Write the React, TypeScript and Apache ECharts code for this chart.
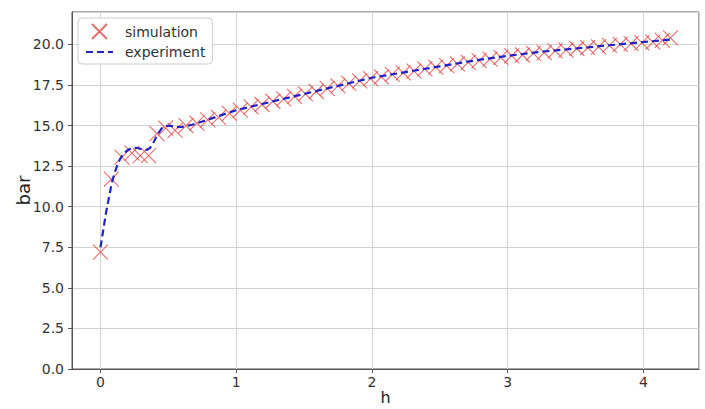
import React, { useEffect, useRef } from "react";
import * as echarts from "echarts";

const simX = [0, 0.08, 0.158, 0.232, 0.293, 0.354, 0.416, 0.48, 0.55, 0.63,
  0.71, 0.79, 0.87, 0.95, 1.03, 1.11, 1.19, 1.27, 1.35, 1.43, 1.51, 1.59, 1.67, 1.75, 1.83,
  1.91, 1.99, 2.07, 2.15, 2.23, 2.31, 2.39, 2.47, 2.55, 2.63, 2.71, 2.79, 2.87, 2.95, 3.03,
  3.11, 3.19, 3.27, 3.35, 3.43, 3.51, 3.59, 3.67, 3.75, 3.83, 3.91, 3.99, 4.07, 4.14, 4.2];
const simY = [7.2, 11.7, 13.05, 13.3, 13.15, 13.15, 14.5, 14.85, 14.7, 15.0,
  15.15, 15.35, 15.5, 15.75, 15.95, 16.15, 16.3, 16.5, 16.65, 16.8, 16.95, 17.1, 17.3, 17.45, 17.6,
  17.75, 17.9, 18.0, 18.15, 18.25, 18.35, 18.5, 18.6, 18.7, 18.8, 18.9, 19.0, 19.1, 19.2, 19.3,
  19.35, 19.45, 19.5, 19.6, 19.65, 19.75, 19.8, 19.85, 19.95, 20.0, 20.05, 20.1, 20.15, 20.25, 20.4];

const expX = [0, 0.04, 0.084, 0.105, 0.125, 0.145, 0.165, 0.19, 0.215, 0.245, 0.275, 0.31, 0.34, 0.365,
  0.39, 0.42, 0.45, 0.48, 0.52, 0.56, 0.6, 0.675,
  0.75, 1.0, 1.25, 1.5, 1.75, 2.0, 2.25, 2.5, 2.75, 3.0, 3.25, 3.5, 3.75, 4.0, 4.2];
const expY = [7.5, 9.6, 11.5, 12.1, 12.6, 12.95, 13.2, 13.42, 13.56, 13.63, 13.62, 13.52, 13.5, 13.62,
  13.95, 14.45, 14.82, 14.98, 14.98, 14.9, 14.92, 15.05,
  15.25, 15.95, 16.45, 16.95, 17.45, 17.95, 18.3, 18.65, 19.0, 19.3, 19.55, 19.75, 19.95, 20.15, 20.3];

const seriesNames = ["simulation", "experiment"];
const xLabel = "h";
const yLabel = "bar";

const FONT = "DejaVu Sans";
const X_MARK = "path://M0,0L10,10M10,0L0,10";
const RED = "#e04a4a";
const BLUE = "#2222c4";

export default function App() {
  const ref = useRef<HTMLDivElement>(null);
  useEffect(() => {
    if (!ref.current) return;
    const chart = echarts.init(ref.current, undefined, { renderer: "svg" });
    const simData = simX.map((x, i) => [x, simY[i]]);
    const expData = expX.map((x, i) => [x, expY[i]]);
    chart.setOption({
      animation: false,
      backgroundColor: "#ffffff",
      textStyle: { fontFamily: FONT },
      grid: {
        left: 72, right: 6, top: 12, bottom: 40,
        containLabel: false, outerBoundsMode: "none",
        show: true, borderColor: "#555", borderWidth: 1, backgroundColor: "transparent",
      },
      legend: {
        left: 78, top: 18, orient: "vertical",
        padding: [5, 7, 5, 7], itemGap: 5, itemWidth: 27, itemHeight: 15,
        borderColor: "#cccccc", borderWidth: 1, borderRadius: 4,
        backgroundColor: "rgba(255,255,255,0.85)",
        textStyle: { fontFamily: FONT, fontSize: 14, color: "#333", padding: [0, 0, 0, 7] },
        data: [
          { name: seriesNames[0] },
          { name: seriesNames[1], itemStyle: { color: "rgba(0,0,0,0)", borderWidth: 0, opacity: 0 } },
        ],
      },
      xAxis: {
        type: "value", min: -0.21, max: 4.41, splitNumber: 5,
        name: xLabel, nameLocation: "middle", nameGap: 20, nameMoveOverlap: false,
        nameTextStyle: { fontFamily: FONT, fontSize: 16, color: "#222", lineHeight: 17 },
        axisLine: { show: true, onZero: false, lineStyle: { color: "#555", width: 1 } },
        axisTick: { show: true, length: 4, lineStyle: { color: "#555" } },
        axisLabel: {
          show: true, margin: 6, fontFamily: FONT, fontSize: 14, color: "#333",
          showMinLabel: false, showMaxLabel: false,
          formatter: (v: number) => String(Math.round(v)),
        },
        splitLine: { show: true, lineStyle: { color: "#d3d3d3", width: 1 } },
      },
      yAxis: {
        type: "value", min: 0, max: 22, interval: 2.5,
        name: yLabel, nameLocation: "middle", nameGap: 40, nameRotate: 90, nameMoveOverlap: false,
        nameTextStyle: { fontFamily: FONT, fontSize: 18, color: "#222" },
        axisLine: { show: true, onZero: false, lineStyle: { color: "#555", width: 1 } },
        axisTick: { show: true, length: 4, lineStyle: { color: "#555" } },
        axisLabel: {
          show: true, margin: 8, fontFamily: FONT, fontSize: 14, color: "#333",
          showMaxLabel: false,
          formatter: (v: number) => v.toFixed(1),
        },
        splitLine: { show: true, lineStyle: { color: "#d3d3d3", width: 1 } },
      },
      series: [
        {
          name: seriesNames[0], type: "scatter", data: simData,
          symbol: X_MARK, symbolSize: 15, z: 2,
          itemStyle: { color: "transparent", borderColor: RED, borderWidth: 1.1 },
        },
        {
          name: seriesNames[1], type: "line", data: expData,
          showSymbol: false, symbol: "none", z: 3, smooth: false,
          lineStyle: { color: BLUE, width: 2.2, type: [7, 4] },
          itemStyle: { color: BLUE },
        },
      ],
    });
    return () => chart.dispose();
  }, []);
  return (
    <div
      ref={ref}
      style={{ position: "absolute", left: 0, top: 0, width: 705, height: 409 }}
    />
  );
}
